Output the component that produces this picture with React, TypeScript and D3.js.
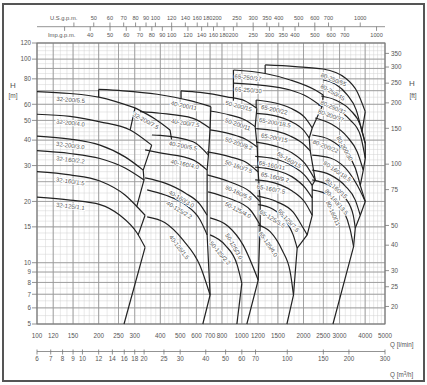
import React from 'react';
import * as d3 from 'd3';

const W = 427, HH = 385;

// ---- axis tick values ----
const qTicks = [100,120,150,200,250,300,400,500,600,700,800,1000,1200,1500,2000,2500,3000,4000,5000];
const m3hTicks = [6,7,8,9,10,12,14,16,18,20,25,30,40,50,60,70,100,150,200,300];
const usTicks = [50,60,70,80,90,100,120,140,160,180,200,250,300,350,400,500,600,700,1000];
const usExtra = [40];
const impTicks = [40,50,60,70,80,90,100,120,140,160,180,200,250,300,350,400,500,600,700,1000];
const impExtra = [30];
const hTicks = [5,6,7,8,9,10,15,20,30,40,50,60,80,100,120];
const ftTicks = [20,25,30,40,50,75,100,150,200,250,300,350];

// ---- pump curves [Q l/min, H m] ----
const c32_200_5_5 = [[100,69.3],[145,67.8],[203,64.9],[301,57.6]];
const c32_200_7_5 = [[301,57.6],[377,50.8],[446,44.9]];
const c32_200_4_0 = [[100,53.6],[145,52.3],[203,49.2],[285,44.9],[363,37.8]];
const c32_200_3_0 = [[100,41.9],[145,40.5],[203,37.8],[269,33.1],[330,28.5]];
const c32_160_2_2 = [[100,35.5],[145,34.4],[203,32.5],[269,29.2],[333,25.5]];
const c32_160_1_5 = [[100,28.0],[145,27.0],[203,25.2],[269,21.5],[318,18.2],[337,17.1]];
const c32_125_1_1 = [[100,21.0],[145,20.3],[203,19.3],[254,17.1],[308,14.0],[337,11.9]];

const c40_200_11 = [[200,71.0],[263,69.9],[386,67.2],[559,62.5],[706,58.4]];
const c40_200_7_5 = [[318,55.2],[399,54.2],[578,51.2],[700,45.7]];
const c40_200_5_5 = [[364,42.4],[399,42.2],[578,39.3],[687,33.8]];
const c40_160_4_0 = [[337,35.8],[399,34.6],[578,32.0],[677,28.5]];
const c40_160_3_0 = [[337,26.1],[422,24.6],[529,22.0],[626,19.3],[677,17.1]];
const c40_125_2_2 = [[345,22.8],[422,21.5],[529,19.3],[626,16.2],[677,13.7]];
const c40_125_1_5 = [[345,16.8],[422,15.7],[517,12.9],[626,9.64],[700,6.94]];

const c50_200_15 = [[505,69.9],[626,68.6],[845,65.3],[1038,62.3],[1184,57.3]];
const c50_200_11 = [[700,55.6],[877,53.1],[1038,50.2],[1162,46.6]];
const c50_200_9_2 = [[700,44.9],[877,42.9],[1038,40.5],[1189,37.0]];
const c50_160_7_5 = [[677,35.0],[877,33.1],[1038,31.3],[1202,27.9]];
const c50_160_5_5 = [[677,27.0],[877,24.9],[1098,22.3],[1229,19.9]];
const c50_125_4_0 = [[684,22.3],[877,20.6],[1098,18.2],[1229,15.3]];
const c50_125_3_0 = [[700,16.6],[857,15.1],[1015,12.2],[1202,8.22]];
const c50_125_2_2 = [[700,13.7],[829,12.2],[948,9.78],[1000,7.92]];

const c65_250_37 = [[910,88.4],[1300,85.0],[1723,79.0],[2282,70.5],[2497,66.7]];
const c65_250_30 = [[910,76.3],[1229,74.6],[1723,70.5],[2086,65.4],[2461,58.4]];
const c65_200_22 = [[1175,63.0],[1455,60.9],[1723,57.5],[2039,51.4],[2206,45.9]];
const c65_200_18_5 = [[1175,54.1],[1455,52.6],[1723,49.6],[1994,44.9],[2133,41.0]];
const c65_200_15 = [[1175,45.6],[1455,44.4],[1723,41.9],[1972,38.7],[2157,35.4]];
const c65_160_15 = [[1175,39.1],[1455,37.4],[1762,34.6],[2039,30.6],[2282,25.5]];
const c65_160_11 = [[1162,33.3],[1455,32.3],[1762,29.9],[2039,26.7],[2206,24.0]];
const c65_160_9_2 = [[1162,29.5],[1455,28.5],[1762,26.4],[2039,23.3],[2206,20.8]];
const c65_160_7_5 = [[1162,25.5],[1455,24.6],[1762,22.5],[2039,19.7],[2206,17.1]];
const c65_125_7_5 = [[1189,21.3],[1488,19.9],[1781,17.7],[1994,14.8],[2085,13.7]];
const c65_125_5_5 = [[1202,19.3],[1406,18.4],[1628,16.2],[1781,13.7],[1863,11.8]];
const c65_125_4_0 = [[1202,15.3],[1375,14.2],[1574,11.5],[1723,9.0],[1787,6.94]];

const c80_250_55 = [[1300,93.6],[1822,91.9],[2497,89.4],[3199,80.8],[3661,69.0],[4006,55.2]];
const c80_250_45 = [[2497,79.0],[2858,75.4],[3271,66.7],[3620,56.2],[3860,44.1]];
const c80_250_37 = [[2441,65.9],[2858,63.0],[3384,56.2],[3787,47.4],[4006,38.6]];
const c80_200_37 = [[2360,59.5],[2858,56.9],[3384,50.2],[3787,42.4],[4006,32.6]];
const c80_200_30 = [[2282,51.4],[2732,48.0],[3271,41.5],[3661,35.0],[3917,28.5]];
const c80_200_22 = [[2206,42.4],[2702,40.1],[3199,35.0],[3580,29.2],[3787,24.0]];
const c80_160_18_5 = [[2206,33.8],[2702,32.7],[3199,29.2],[3661,24.0],[4006,20.0]];
const c80_160_15 = [[2206,28.5],[2702,27.0],[3199,23.8],[3580,20.3],[3787,17.1]];
const c80_160_13_5 = [[2206,25.5],[2702,23.8],[3199,20.8],[3500,17.1],[3580,14.8]];
const c80_160_11 = [[2206,22.8],[2702,21.3],[3128,18.2],[3384,14.5],[3512,12.0]];

// curve name, points, label start Q
const curves: [string, number[][], number][] = [
  ['32-200/5.5', c32_200_5_5, 125],
  ['32-200/7.5', c32_200_7_5, 305],
  ['32-200/4.0', c32_200_4_0, 125],
  ['32-200/3.0', c32_200_3_0, 125],
  ['32-160/2.2', c32_160_2_2, 125],
  ['32-160/1.5', c32_160_1_5, 125],
  ['32-125/1.1', c32_125_1_1, 125],
  ['40-200/11', c40_200_11, 456],
  ['40-200/7.5', c40_200_7_5, 456],
  ['40-200/5.5', c40_200_5_5, 446],
  ['40-160/4.0', c40_160_4_0, 456],
  ['40-160/3.0', c40_160_3_0, 456],
  ['40-125/2.2', c40_125_2_2, 446],
  ['40-125/1.5', c40_125_1_5, 472],
  ['50-200/15', c50_200_15, 848],
  ['50-200/11', c50_200_11, 848],
  ['50-200/9.2', c50_200_9_2, 848],
  ['50-160/7.5', c50_160_7_5, 848],
  ['50-160/5.5', c50_160_5_5, 857],
  ['50-125/4.0', c50_125_4_0, 857],
  ['50-125/3.0', c50_125_3_0, 895],
  ['50-125/2.2', c50_125_2_2, 741],
  ['65-250/37', c65_250_37, 928],
  ['65-250/30', c65_250_30, 928],
  ['65-200/22', c65_200_22, 1260],
  ['65-200/18.5', c65_200_18_5, 1229],
  ['65-200/15', c65_200_15, 1260],
  ['65-160/15', c65_160_15, 1539],
  ['65-160/11', c65_160_11, 1229],
  ['65-160/9.2', c65_160_9_2, 1260],
  ['65-160/7.5', c65_160_7_5, 1202],
  ['65-125/7.5', c65_125_7_5, 1593],
  ['65-125/5.5', c65_125_5_5, 1272],
  ['65-125/4.0', c65_125_4_0, 1300],
  ['80-250/55', c80_250_55, 2497],
  ['80-250/45', c80_250_45, 2520],
  ['80-250/37', c80_250_37, 2497],
  ['80-200/37', c80_200_37, 2414],
  ['80-200/30', c80_200_30, 3128],
  ['80-200/22', c80_200_22, 2282],
  ['80-160/18.5', c80_160_18_5, 2615],
  ['80-160/15', c80_160_15, 2702],
  ['80-160/13.5', c80_160_13_5, 2702],
  ['80-160/11', c80_160_11, 2786],
];

// ---- limit / boundary lines [Q, H] ----
const b32a = [[301,57.6],[285,44.9]];
const b32b = [[446,44.9],[454,40.3]];
const b32c = [[363,37.8],[330,28.5],[333,25.5],[307,18.9]];
const b32d = [[337,17.1],[312,13.7]];
const b32e = [[337,11.9],[266,5]];
const b40L = [[200,71.0],[200,65.1]];
const b40 = [[706,58.4],[700,45.7],[687,33.8],[677,28.5],[677,17.1],[677,13.7],[700,6.94],[645,5]];
const b50L = [[505,69.9],[505,63.8]];
const b50 = [[1184,57.3],[1162,46.6],[1189,37.0],[1202,27.9],[1229,19.9],[1229,15.3],[1202,8.22],[1058,5]];
const b50b = [[1000,7.92],[946,5]];
const b65L = [[910,88.4],[910,62.5]];
const b65L2 = [[1175,63.0],[1175,57.3]];
const b65 = [[2497,66.7],[2461,58.4],[2206,45.9],[2133,41.0],[2157,35.4],[2282,25.5],[2206,24.0],[2206,20.8],[2206,17.1],[2085,13.7],[1863,11.8],[1787,6.94],[1660,5]];
const b80L = [[1300,93.6],[1300,85.0]];
const b80 = [[4006,55.2],[3860,44.1],[4006,38.6],[4006,32.6],[3917,28.5],[3787,24.0],[4006,20.0],[3787,17.1],[3580,14.8],[3512,12.0],[2786,5]];
const bounds = [b32a,b32b,b32c,b32d,b32e,b40L,b40,b50L,b50,b50b,b65L,b65L2,b65,b80L,b80];

const FONT = "'Liberation Sans Narrow','Liberation Sans',Arial,sans-serif";

export default function App() {
  const xs = d3.scaleLog().domain([100, 5000]).range([37, 385]);
  const ys = d3.scaleLog().domain([5, 120]).range([324, 43]);
  const curveGen = d3.line<number[]>().x(d => xs(d[0])).y(d => ys(d[1])).curve(d3.curveMonotoneX);
  const polyGen = d3.line<number[]>().x(d => xs(d[0])).y(d => ys(d[1]));

  const x0 = xs(100), x1 = xs(5000), y0 = ys(120), y1 = ys(5);

  const qMinor = [...d3.range(100,200,10), ...d3.range(200,500,20), ...d3.range(500,1000,50), ...d3.range(1000,2000,100), ...d3.range(2000,5001,200)];
  const hMinor = [...d3.range(5,10,0.5), ...d3.range(10,20,1), ...d3.range(20,50,2), ...d3.range(50,121,5)];
  const hMajor = [5,6,7,8,9,10,15,20,25,30,40,50,60,70,80,90,100,120];

  const yAt = (px: number[][], x: number) => {
    let i = 0;
    while (i < px.length - 2 && px[i + 1][0] < x) i++;
    const [ax, ay] = px[i], [bx, by] = px[i + 1];
    return ay + ((x - ax) / (bx - ax)) * (by - ay);
  };
  const label = (pts: number[][], q: number) => {
    const px = pts.map(p => [xs(p[0]), ys(p[1])]);
    const x = xs(q);
    const y = yAt(px, x);
    const xe = x + 20;
    const ye = yAt(px, xe);
    const ang = Math.atan2(ye - y, xe - x) * 180 / Math.PI;
    return { x, y, ang };
  };

  return (
    <svg width={W} height={HH} style={{ position: 'absolute', left: 0, top: 0, background: '#fff' }} fontFamily={FONT}>
      <rect x={3} y={4} width={421} height={377} fill="#fff" stroke="#555" strokeWidth={2} />
      {/* grid */}
      <g>
        {qMinor.map((q, i) => <line key={'qm' + i} x1={xs(q)} x2={xs(q)} y1={y0} y2={y1} stroke="#d2d2d2" strokeWidth={0.5} />)}
        {hMinor.map((h, i) => <line key={'hm' + i} x1={x0} x2={x1} y1={ys(h)} y2={ys(h)} stroke="#d2d2d2" strokeWidth={0.5} />)}
        {qTicks.map((q, i) => <line key={'qM' + i} x1={xs(q)} x2={xs(q)} y1={y0} y2={y1} stroke="#999" strokeWidth={0.9} />)}
        {hMajor.map((h, i) => <line key={'hM' + i} x1={x0} x2={x1} y1={ys(h)} y2={ys(h)} stroke="#999" strokeWidth={0.9} />)}
        <rect x={x0} y={y0} width={x1 - x0} height={y1 - y0} fill="none" stroke="#777" strokeWidth={1} />
      </g>
      {/* axes */}
      <g fontSize={6.3} fill="#555">
        {hTicks.map((h, i) => (
          <g key={'ht' + i}>
            <line x1={x0 - 5} x2={x0} y1={ys(h)} y2={ys(h)} stroke="#777" strokeWidth={0.8} />
            <text x={x0 - 6} y={ys(h) + 2.3} textAnchor="end">{h}</text>
          </g>
        ))}
        {ftTicks.map((f, i) => (
          <g key={'ft' + i}>
            <line x1={x1} x2={x1 + 4} y1={ys(f * 0.3048)} y2={ys(f * 0.3048)} stroke="#777" strokeWidth={0.8} />
            <text x={x1 + 6} y={ys(f * 0.3048) + 2.3}>{f}</text>
          </g>
        ))}
        <text x={13} y={88} textAnchor="middle" fontSize={8}>H</text>
        <text x={13} y={98} textAnchor="middle" fontSize={6.5}>[m]</text>
        <text x={412} y={86} textAnchor="middle" fontSize={8}>H</text>
        <text x={413} y={98} textAnchor="middle" fontSize={6.5}>[ft]</text>
        {qTicks.map((q, i) => <text key={'ql' + i} x={xs(q)} y={337.5} textAnchor="middle">{q}</text>)}
        <text x={390} y={346.5}>Q [l/min]</text>
        <line x1={x0} x2={x1} y1={351.5} y2={351.5} stroke="#777" strokeWidth={0.8} />
        {m3hTicks.map((m, i) => (
          <g key={'mh' + i}>
            <line x1={xs(m * 1000 / 60)} x2={xs(m * 1000 / 60)} y1={349.5} y2={354.5} stroke="#777" strokeWidth={0.8} />
            <text x={xs(m * 1000 / 60)} y={361} textAnchor="middle">{m}</text>
          </g>
        ))}
        <text x={390} y={377}>Q [m<tspan dy={-2.5} fontSize={4.5}>3</tspan><tspan dy={2.5}>/h]</tspan></text>
        <line x1={x0} x2={x1} y1={26.7} y2={26.7} stroke="#777" strokeWidth={0.8} />
        {[...usTicks, ...usExtra].map((g, i) => (
          <line key={'ust' + i} x1={xs(g * 3.78541)} x2={xs(g * 3.78541)} y1={22.5} y2={26.7} stroke="#777" strokeWidth={0.8} />
        ))}
        {usTicks.map((g, i) => <text key={'usl' + i} x={xs(g * 3.78541)} y={19.5} textAnchor="middle" fontSize={5.6}>{g}</text>)}
        {[...impTicks, ...impExtra].map((g, i) => (
          <line key={'imt' + i} x1={xs(g * 4.54609)} x2={xs(g * 4.54609)} y1={26.7} y2={30.9} stroke="#777" strokeWidth={0.8} />
        ))}
        {impTicks.map((g, i) => <text key={'iml' + i} x={xs(g * 4.54609)} y={37} textAnchor="middle" fontSize={5.6}>{g}</text>)}
        <text x={50} y={19.5} fontSize={5.8}>U.S.g.p.m.</text>
        <text x={48} y={37} fontSize={5.8}>Imp.g.p.m.</text>
      </g>
      {/* curves */}
      <g fill="none" stroke="#222" strokeWidth={1.2} strokeLinejoin="round">
        {curves.map(([n, pts], i) => <path key={'c' + i} d={curveGen(pts) || ''} />)}
        {bounds.map((b, i) => <path key={'b' + i} d={polyGen(b) || ''} />)}
      </g>
      {/* labels */}
      <g fontSize={6} fill="#555">
        {curves.map(([n, pts, q], i) => {
          const p = label(pts, q);
          return (
            <text key={'l' + i} transform={`translate(${p.x},${p.y}) rotate(${p.ang})`} dy={8}
              stroke="#fff" strokeWidth={2} paintOrder="stroke" strokeLinejoin="round">{n}</text>
          );
        })}
      </g>
    </svg>
  );
}
